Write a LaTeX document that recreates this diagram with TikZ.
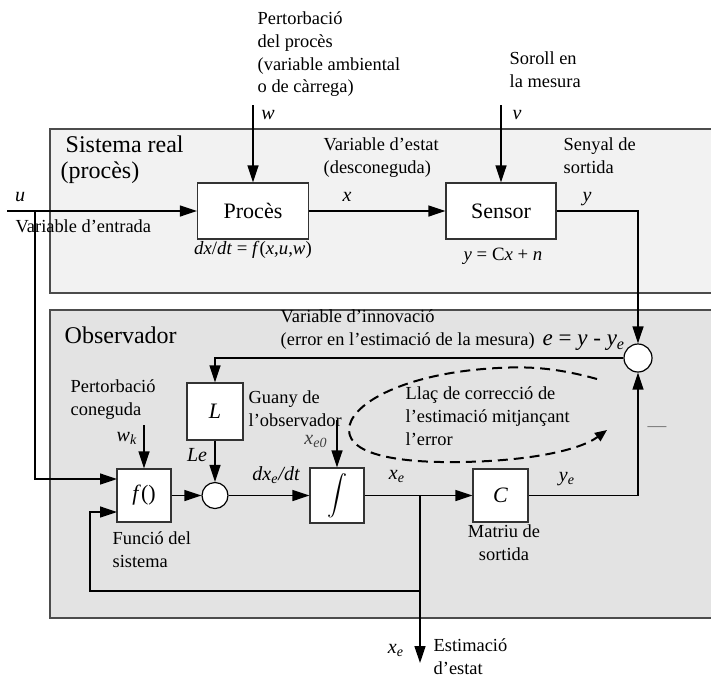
\documentclass[tikz,border=0pt]{standalone}
\usepackage{fontspec}
\setmainfont{Liberation Serif}
\usetikzlibrary{arrows.meta}
\tikzset{box/.style={draw=black!80,fill=white,line width=0.6pt,inner sep=0pt,font=\fontsize{11}{13}\selectfont},
arr/.style={-{Triangle[length=8.5pt,width=5.5pt]}},
lbl/.style={inner sep=0pt,anchor=north west,align=left,font=\fontsize{9.2}{11.4}\selectfont},
sym/.style={inner sep=0pt,font=\fontsize{10}{12}\selectfont\itshape},
sumpt/.style={circle,draw,fill=white,minimum size=13pt,inner sep=0pt,line width=0.6pt},
frame/.style={draw=black!70,line width=0.7pt}}

\begin{document}
\begin{tikzpicture}[x=0.5pt,y=-0.5pt,line width=0.7pt]
\useasboundingbox(0,0)rectangle(711,677);
% the two regions
\draw[frame,fill=black!5](50,129)rectangle(716,293);
\draw[frame,fill=black!11](50,310)rectangle(716,618);
\node[lbl,font=\fontsize{12}{13}\selectfont](realtxt)at(60,135){\hspace{2.5pt}Sistema real\\(procès)};
\node[lbl,font=\fontsize{12}{13}\selectfont](obstxt)at(64,326){Observador};
% blocks
\node[box,minimum width=55.5pt,minimum height=28pt](proces)at(253,211){Procès};
\node[box,minimum width=55pt,minimum height=28pt](sensor)at(501,211){Sensor};
\node[box,minimum width=28pt,minimum height=28.5pt](gain)at(215,411.5){\textit{L}};
\node[box,minimum width=27pt,minimum height=26.5pt](func)at(144,495.5){\textit{f}()};
\node[box,minimum width=27pt,minimum height=27.5pt](integ)at(337,495.5){$\displaystyle\int$};
\node[box,minimum width=27.5pt,minimum height=26.5pt](outm)at(500.5,495.5){\textit{C}};
\node[sumpt,minimum size=14pt](esum)at(638,358){};
\node[sumpt](lsum)at(215,495.5){};
% free ends
\coordinate(uin)at(7,211);\coordinate(ubr)at(35,211);
\coordinate(fin1)at(117,479);\coordinate(fin2)at(117,512);
\coordinate(wtop)at(253,105);\coordinate(vtop)at(501,105);
\coordinate(wk)at(144,425);\coordinate(xe0)at(337,420);
\coordinate(xbr)at(420,495.5);\coordinate(xout)at(420,663);\coordinate(fbl)at(90,591);
% connectors
\draw[arr](uin)--(proces);\draw[arr](ubr)|-(fin1);
\draw[arr](wtop)--(proces);\draw[arr](vtop)--(sensor);
\draw[arr](proces)--(sensor);\draw[arr](sensor)-|(esum);
\draw[arr](esum)-|(gain);\draw[arr](gain)--(lsum);
\draw[arr](wk)--(func);\draw[arr](func)--(lsum);
\draw[arr](lsum)--(integ);\draw[arr](xe0)--(integ);
\draw[arr](integ)--(outm);\draw[arr](outm)-|(esum);
\draw[arr](xbr)--(xout);\draw[arr](xbr)|-(fbl)|-(fin2);
% correction loop
\draw[line width=1pt,dash pattern=on 5pt off 3pt,-{Triangle[length=6pt,width=5pt]}](597,379)..controls(550,366)and(520,366)..(483,369)
  ..controls(400,376)and(349,405)..(349,430)..controls(349,455)and(400,463)..(460,462)..controls(530,461)and(580,450)..(607,430);
% labels
\node[lbl](wtxt)at(257,11){Pertorbació\\del procès\\(variable ambiental\\o de càrrega)};
\node[sym](wlab)at(268,115){w};
\node[lbl](vtxt)at(509,51){Soroll en\\la mesura};
\node[sym](vlab)at(517,115){v};
\node[lbl](xtxt)at(323,137){Variable d'estat\\(desconeguda)};
\node[sym](xlab)at(347,197){x};
\node[lbl](ytxt)at(563,137){Senyal de\\sortida};
\node[sym](ylab)at(587,199){y};
\node[sym](ulab)at(20,197){u};
\node[lbl](utxt)at(15,219){Variable d'entrada};
\node[sym,font=\fontsize{9.4}{11}\selectfont](peq)at(253,250){\textit{dx}/\textit{dt} = \textit{f}(\textit{x},\textit{u},\textit{w})};
\node[sym,font=\fontsize{9.4}{11}\selectfont](seq)at(503,256){\textit{y} = C\textit{x} + \textit{n}};
\node[lbl](etxt)at(280,309){Variable d'innovació\\(error en l'estimació de la mesura)};
\node[sym,anchor=west,font=\fontsize{11.5}{13}\selectfont](elab)at(542,343){\textit{e} = \textit{y} - \textit{y}\textsubscript{\textit{e}}};
\node[lbl](wktxt)at(70,379){Pertorbació\\coneguda};
\node[sym](wklab)at(127,438){w\textsubscript{k}};
\node[lbl](gtxt)at(248,390){Guany de\\l'observador};
\node[sym,text=black!75](xe0lab)at(316,441){x\textsubscript{e0}};
\node[sym](lelab)at(197,455){Le};
\node[sym](dxlab)at(276,475){dx\textsubscript{e}/dt};
\node[sym](xelab)at(397,476){x\textsubscript{e}};
\node[sym](yelab)at(567,479){y\textsubscript{e}};
\node[lbl](ftxt)at(112,531){Funció del\\sistema};
\node[lbl,anchor=north,align=center](ctxt)at(504,524){Matriu de\\sortida};
\node[lbl](looptxt)at(405,386){Llaç de correcció de\\l'estimació mitjançant\\l'error};
\node[sym,text=black!55,font=\fontsize{9.4}{11}\selectfont](minus)at(657,429){---};
\node[sym](xoutlab)at(396,650){x\textsubscript{e}};
\node[lbl](xouttxt)at(433,638){Estimació\\d'estat};
\end{tikzpicture}
\end{document}
